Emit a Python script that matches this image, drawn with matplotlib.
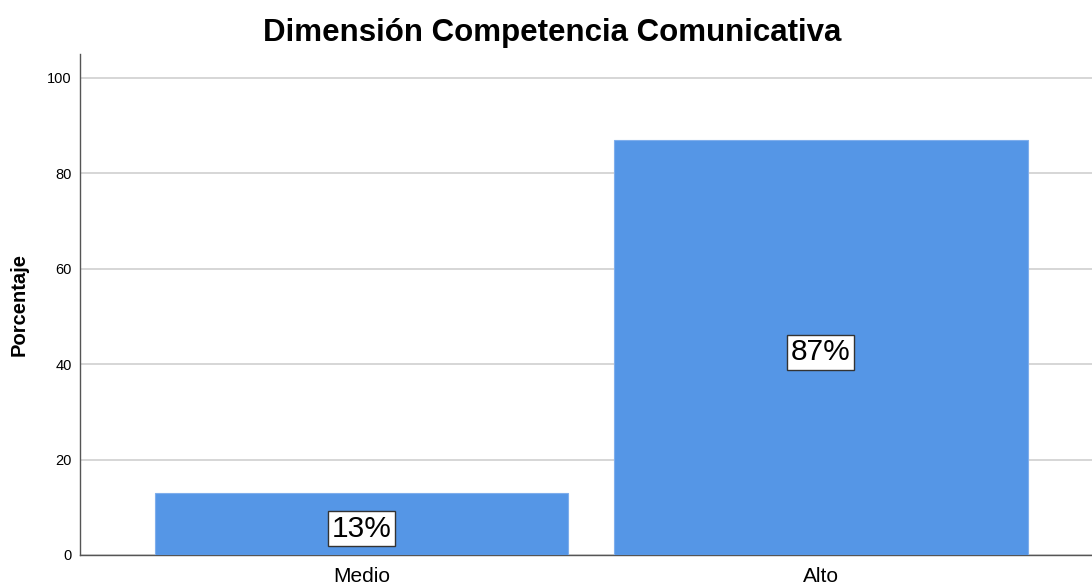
import matplotlib
matplotlib.use("Agg")
import matplotlib.pyplot as plt

categories = ["Medio", "Alto"]
percentages = [13.0, 87.0]
labels = ["13%", "87%"]
yticks = [0, 20, 40, 60, 80, 100]

plt.rcParams['font.family'] = ['Liberation Sans', 'DejaVu Sans']

fig = plt.figure(figsize=(10.92, 5.85), dpi=100)
ax = fig.add_axes([80/1092, 30/585, 1012/1092, 501/585])

x = list(range(len(categories)))
ax.bar(x, percentages, width=0.9, color="#5596E6", edgecolor="#7FAEEC", linewidth=0.8, zorder=3)

for xi, v, lab in zip(x, percentages, labels):
    ax.text(xi, v / 2 - 1.0, lab, ha="center", va="center", fontsize=21.5, color="black", zorder=4,
            bbox=dict(boxstyle="square,pad=0.12", facecolor="white", edgecolor="#333333", linewidth=1))

ax.set_xlim(-0.6126, 1.59)
ax.set_ylim(0, 105)
ax.set_yticks(yticks)
ax.set_yticklabels([str(t) for t in yticks], fontsize=10.5)
ax.set_xticks(x)
ax.set_xticklabels(categories, fontsize=15)
ax.tick_params(axis='both', length=0)
ax.tick_params(axis='x', pad=9)
ax.tick_params(axis='y', pad=6)
ax.yaxis.grid(True, color="#CFCFCF", linewidth=1.2, zorder=0)
ax.set_axisbelow(True)
for s in ["top", "right"]:
    ax.spines[s].set_visible(False)
ax.spines["left"].set_color("#555555")
ax.spines["bottom"].set_color("#555555")
ax.spines["left"].set_linewidth(1.0)
ax.spines["bottom"].set_linewidth(1.0)

ax.set_ylabel("Porcentaje", fontsize=14.5, fontweight="bold", labelpad=13)
fig.text(552/1092, 1 - 33/585, "Dimensión Competencia Comunicativa", ha="center", va="center",
         fontsize=22.5, fontweight="bold")

fig.savefig("out.png", dpi=100)
